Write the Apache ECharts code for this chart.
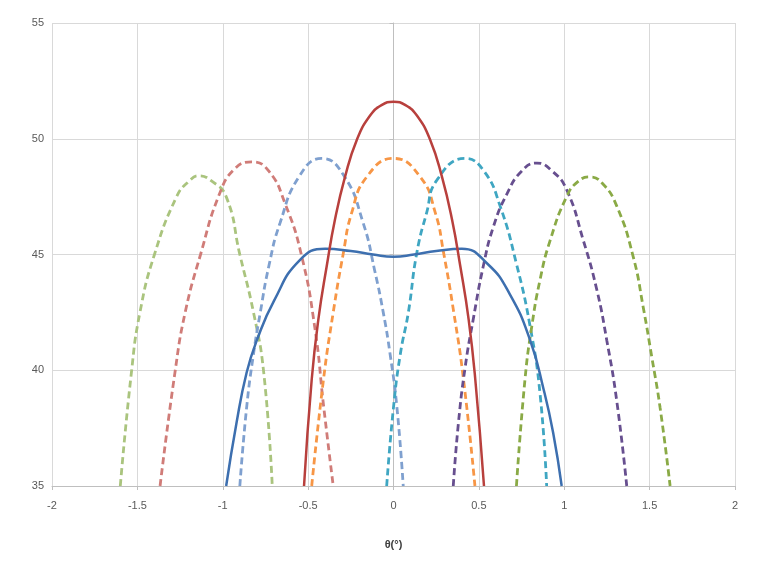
<!DOCTYPE html>
<html>
<head>
<meta charset="utf-8">
<script src="https://cdn.jsdelivr.net/npm/echarts@6/dist/echarts.min.js"></script>
<style>
  html, body { margin: 0; padding: 0; background: #fff; }
  #main { width: 762px; height: 567px; }
</style>
</head>
<body>
<div id="main"></div>
<script>
// axis ticks
var xTicks = [-2, -1.5, -1, -0.5, 0, 0.5, 1, 1.5, 2];
var yTicks = [35, 40, 45, 50, 55];

// [theta, gain]
var greenLeft = [[-1.60,35],[-1.535,39.9],[-1.485,42.5],[-1.40,45],[-1.27,47.5],[-1.20,48.15],[-1.14,48.4],[-1.07,48.2],[-0.98,47.5],[-0.90,45],[-0.82,42.5],[-0.76,39.9],[-0.71,35]];
var redDash = [[-1.367,35],[-1.28,39.9],[-1.22,42.5],[-1.13,45],[-1.02,47.6],[-0.93,48.7],[-0.83,49.0],[-0.73,48.6],[-0.635,47.2],[-0.54,45],[-0.46,41.8],[-0.41,38.5],[-0.353,35]];
var blueDash = [[-0.90,35],[-0.86,38.4],[-0.82,40.7],[-0.78,42.5],[-0.73,44.5],[-0.665,46.35],[-0.55,48.4],[-0.42,49.15],[-0.29,48.4],[-0.177,46.35],[-0.11,44.3],[-0.06,42.5],[-0.02,40.7],[0.02,38.4],[0.057,35]];
var orangeDash = [[-0.479,35],[-0.41,39.6],[-0.353,42.5],[-0.294,45.05],[-0.245,46.8],[-0.157,48.35],[0,49.15],[0.157,48.35],[0.245,46.8],[0.294,45.05],[0.353,42.5],[0.41,39.6],[0.477,35]];
var cyanDash = [[-0.04,35],[0.0,38.4],[0.04,40.7],[0.087,42.5],[0.136,45.05],[0.194,46.8],[0.253,48.2],[0.42,49.15],[0.53,48.6],[0.624,47.1],[0.72,44.6],[0.80,41.9],[0.858,39.0],[0.897,35]];
var purpleDash = [[0.35,35],[0.38,37.7],[0.42,40.15],[0.467,42.2],[0.526,44.5],[0.585,46.2],[0.663,47.6],[0.75,48.6],[0.84,48.95],[0.93,48.6],[1.014,47.8],[1.112,45.6],[1.19,43.5],[1.249,41.3],[1.307,38.7],[1.366,35]];
var greenRight = [[0.72,35],[0.77,39.6],[0.81,41.9],[0.858,43.9],[0.917,45.6],[1.014,47.5],[1.08,48.15],[1.15,48.35],[1.22,48.1],[1.307,47.1],[1.404,44.9],[1.463,42.7],[1.512,40.6],[1.561,38.4],[1.62,35]];
var blueSolid = [[-0.98,35],[-0.92,37.7],[-0.86,39.9],[-0.80,41.3],[-0.70,43.0],[-0.55,44.75],[-0.40,45.25],[-0.25,45.15],[-0.12,45.0],[0,44.9],[0.12,45.0],[0.25,45.15],[0.40,45.25],[0.55,44.6],[0.68,43.3],[0.80,41.3],[0.88,39.15],[0.935,37.3],[0.985,35]];
var redSolid = [[-0.524,35],[-0.479,39.6],[-0.44,42.2],[-0.391,44.5],[-0.343,46.5],[-0.284,48.35],[-0.215,49.95],[-0.137,51.0],[-0.07,51.45],[0,51.6],[0.07,51.45],[0.137,51.0],[0.215,49.95],[0.284,48.35],[0.343,46.5],[0.391,44.5],[0.44,42.2],[0.479,39.6],[0.53,35]];

function line(data, color, dashed) {
    return {
        type: 'line',
        data: data,
        smooth: 0.5,
        showSymbol: false,
        lineStyle: {
            color: color,
            width: dashed ? 2.8 : 2.5,
            type: dashed ? [7, 4] : 'solid'
        }
    };
}

var myChart = echarts.init(document.getElementById('main'));
var option = {
    backgroundColor: '#fff',
    animation: false,
    grid: { left: 52, right: 27, top: 23, bottom: 81 },
    textStyle: { fontFamily: 'Liberation Sans, Arial, sans-serif' },
    xAxis: {
        type: 'value',
        min: xTicks[0],
        max: xTicks[xTicks.length - 1],
        interval: 0.5,
        name: 'θ(°)',
        nameLocation: 'middle',
        nameGap: 53,
        nameTextStyle: { color: '#404040', fontSize: 11, fontWeight: 'bold' },
        axisLine: { lineStyle: { color: '#bfbfbf' } },
        axisTick: { show: true, length: 4, lineStyle: { color: '#bfbfbf' } },
        axisLabel: { color: '#595959', fontSize: 11, margin: 14 },
        splitLine: { lineStyle: { color: '#d9d9d9', width: 1 } }
    },
    yAxis: {
        type: 'value',
        min: yTicks[0],
        max: yTicks[yTicks.length - 1],
        interval: 5,
        axisLine: { show: true, lineStyle: { color: '#bfbfbf' } },
        axisTick: { show: true, length: 4, lineStyle: { color: '#bfbfbf' } },
        axisLabel: { color: '#595959', fontSize: 11, margin: 8 },
        splitLine: { lineStyle: { color: '#d9d9d9', width: 1 } }
    },
    series: [
        line(greenLeft, '#aac47e', true),
        line(redDash, '#d07c78', true),
        line(blueDash, '#7fa0cf', true),
        line(orangeDash, '#f79646', true),
        line(cyanDash, '#3fa6c2', true),
        line(purpleDash, '#674f8f', true),
        line(greenRight, '#8aaa46', true),
        line(blueSolid, '#3d6faf', false),
        line(redSolid, '#b8403d', false)
    ]
};
myChart.setOption(option, true);
</script>
</body>
</html>
